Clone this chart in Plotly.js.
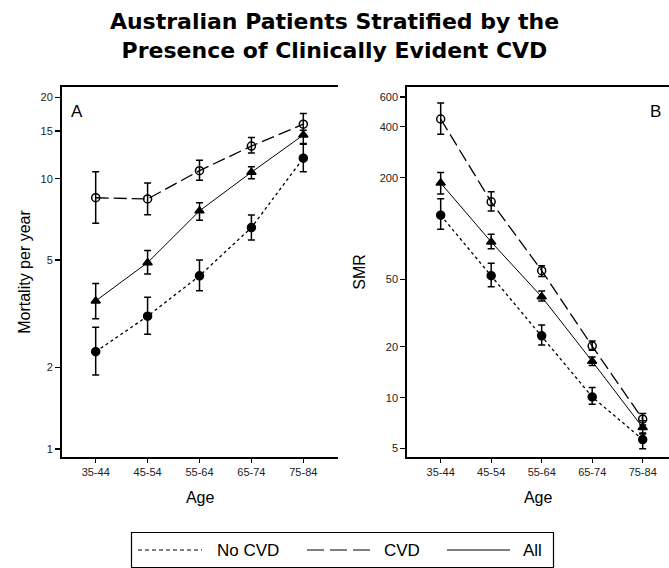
<!DOCTYPE html>
<html>
<head>
<meta charset="utf-8">
<script src="https://cdn.plot.ly/plotly-3.0.1.min.js"></script>
<style>html,body{margin:0;padding:0;background:#fff;}#chart{width:669px;height:568px;}</style>
</head>
<body>
<div id="chart"></div>
<script>
// ---- data ----
var ageGroups = ["35-44", "45-54", "55-64", "65-74", "75-84"];
var seriesNames = ["No CVD", "CVD", "All"];

// Panel A: mortality per year
var mortNoCVD      = [2.29, 3.10, 4.37, 6.59, 11.9];
var mortNoCVDHigh  = [2.82, 3.64, 5.00, 7.34, 13.5];
var mortNoCVDLow   = [1.88, 2.66, 3.85, 5.93, 10.6];
var mortCVD        = [8.50, 8.41, 10.7, 13.2, 15.9];
var mortCVDHigh    = [10.6, 9.64, 11.7, 14.2, 17.4];
var mortCVDLow     = [6.84, 7.36, 9.86, 12.45, 14.5];
var mortAll        = [3.53, 4.89, 7.60, 10.56, 14.5];
var mortAllHigh    = [4.09, 5.42, 8.15, 11.07, 15.1];
var mortAllLow     = [3.03, 4.44, 7.02, 10.0, 13.4];

// Panel B: SMR
var smrNoCVD       = [120, 52.7, 23.2, 10.1, 5.65];
var smrNoCVDHigh   = [150, 62.4, 26.9, 11.5, 6.18];
var smrNoCVDLow    = [99, 45.3, 20.5, 9.15, 4.98];
var smrCVD         = [445, 144, 56.4, 20.2, 7.46];
var smrCVDHigh     = [553, 165, 60.3, 21.6, 8.06];
var smrCVDLow      = [362, 127, 52.0, 19.1, 6.90];
var smrAll         = [186, 83.4, 39.5, 16.4, 6.66];
var smrAllHigh     = [215, 92.6, 42.7, 17.4, 7.30];
var smrAllLow      = [160, 76.0, 37.3, 15.5, 6.10];

var mortTicks = [1, 2, 5, 10, 15, 20];
var smrTicks  = [5, 10, 20, 50, 200, 400, 600];

// ---- styles ----
var styles = {
  "No CVD": {dash: "3px,3px", width: 1.3, symbol: "circle", size: 8},
  "CVD":    {dash: "13px,5px", width: 1.3, symbol: "circle-open", size: 8},
  "All":    {dash: "solid", width: 1, symbol: "triangle-up", size: 8}
};

function mk(name, y, hi, lo, xa, ya) {
  var s = styles[name];
  return {
    type: "scatter", mode: "lines+markers", name: name,
    x: ageGroups, y: y, xaxis: xa, yaxis: ya, showlegend: false,
    line: {color: "#000", width: s.width, dash: s.dash},
    marker: {symbol: s.symbol, size: s.size, color: "#000", line: {color: "#000", width: 1.5}},
    error_y: {type: "data", symmetric: false,
      array: hi.map(function (v, i) { return v - y[i]; }),
      arrayminus: lo.map(function (v, i) { return y[i] - v; }),
      color: "#000", thickness: 1.5, width: 3.5}
  };
}

var traces = [
  mk("CVD", mortCVD, mortCVDHigh, mortCVDLow, "x", "y"),
  mk("All", mortAll, mortAllHigh, mortAllLow, "x", "y"),
  mk("No CVD", mortNoCVD, mortNoCVDHigh, mortNoCVDLow, "x", "y"),
  mk("CVD", smrCVD, smrCVDHigh, smrCVDLow, "x2", "y2"),
  mk("All", smrAll, smrAllHigh, smrAllLow, "x2", "y2"),
  mk("No CVD", smrNoCVD, smrNoCVDHigh, smrNoCVDLow, "x2", "y2")
];

var W = 669, H = 568;
var tickFont = {family: "Liberation Sans, Arial, sans-serif", size: 11, color: "#222"};
var titleFont = {family: "Liberation Sans, Arial, sans-serif", size: 16, color: "#000"};

function xAxis(domain, range) {
  return {type: "category", categoryorder: "array", categoryarray: ageGroups,
    domain: domain, range: range, showline: true, linewidth: 2, linecolor: "#000",
    mirror: true, ticks: "outside", ticklen: 4, tickwidth: 1.2, tickcolor: "#000",
    showgrid: false, zeroline: false, tickfont: tickFont, automargin: false,
    title: {text: "Age", font: titleFont, standoff: 15}};
}
function yAxis(domain, range, tv, anchor, title, standoff) {
  return {type: "log", domain: domain, range: range, anchor: anchor,
    tickvals: tv, ticktext: tv.map(String), showline: true, linewidth: 2, linecolor: "#000",
    ticks: "outside", ticklen: 5, tickwidth: 1.2, tickcolor: "#000",
    showgrid: false, zeroline: false, tickfont: tickFont, automargin: false,
    title: {text: title, font: titleFont, standoff: standoff}};
}

var yDom = [1 - 457 / H, 1 - 87 / H];

// custom legend
var legY = 1 - 550 / H;
var legShapes = [
  {type: "rect", xref: "paper", yref: "paper", x0: 131.5 / W, x1: 553.5 / W, y0: 1 - 567.5 / H, y1: 1 - 532.5 / H,
   line: {color: "#000", width: 1.2}, fillcolor: "rgba(0,0,0,0)"}
];
var legLines = [[138, 202, "No CVD", "4px,3px"], [307, 370, "CVD", "17px,6px"], [447, 510, "All", "solid"]];
var legText = [[248, "No CVD"], [402, "CVD"], [532.5, "All"]];
legLines.forEach(function (l) {
  legShapes.push({type: "line", xref: "paper", yref: "paper", x0: l[0] / W, x1: l[1] / W, y0: legY, y1: legY,
    line: {color: "#000", width: 1.1, dash: l[3]}});
});
var annotations = legText.map(function (t) {
  return {xref: "paper", yref: "paper", x: t[0] / W, y: legY, text: t[1], showarrow: false,
    xanchor: "center", yanchor: "middle", font: {family: "Liberation Sans, Arial, sans-serif", size: 17, color: "#000"}};
});
annotations.push({xref: "paper", yref: "paper", x: 77 / W, y: 1 - 112 / H, text: "A", showarrow: false,
  xanchor: "center", yanchor: "middle", font: {family: "Liberation Sans, Arial, sans-serif", size: 17, color: "#000"}});
annotations.push({xref: "paper", yref: "paper", x: 655 / W, y: 1 - 112 / H, text: "B", showarrow: false,
  xanchor: "center", yanchor: "middle", font: {family: "Liberation Sans, Arial, sans-serif", size: 17, color: "#000"}});

var layout = {
  width: W, height: H, margin: {l: 0, r: 0, t: 0, b: 0},
  paper_bgcolor: "#fff", plot_bgcolor: "#fff", showlegend: false,
  title: {text: "Australian Patients Stratified by the<br>Presence of Clinically Evident CVD",
    x: 0.5, xanchor: "center", xref: "paper", y: 1 - 29 / H, yref: "container", yanchor: "middle",
    font: {family: "DejaVu Sans, sans-serif", size: 22, color: "#000", weight: 900}},
  xaxis: xAxis([62 / W, 338.3 / W], [-0.649, 4.674]),
  yaxis: yAxis(yDom, [-0.0296, 1.339], mortTicks, "x", "Mortality per year", 6),
  xaxis2: Object.assign(xAxis([407.3 / W, 1], [-0.661, 4.521]), {anchor: "y2"}),
  yaxis2: yAxis(yDom, [0.649, 2.8376], smrTicks, "x2", "SMR", 10),
  shapes: legShapes,
  annotations: annotations
};
layout.xaxis.anchor = "y";

Plotly.newPlot("chart", traces, layout, {displayModeBar: false, staticPlot: true});
</script>
</body>
</html>
